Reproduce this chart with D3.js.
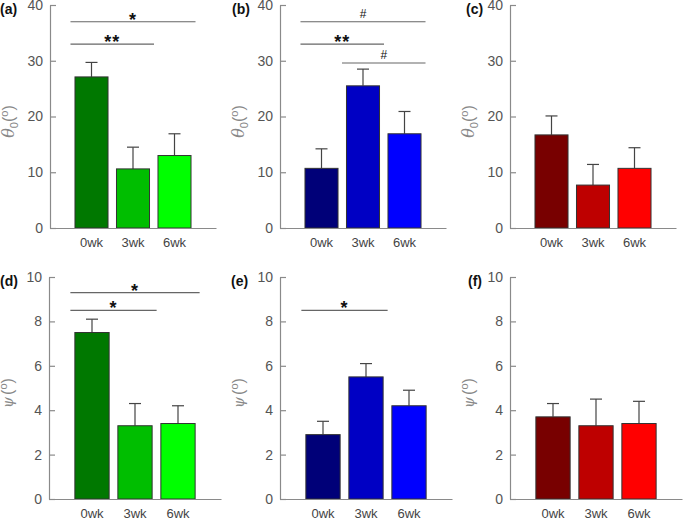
<!DOCTYPE html>
<html>
<head>
<meta charset="utf-8">
<script src="https://cdn.jsdelivr.net/npm/d3@7"></script>
<style>
  html, body { margin: 0; padding: 0; background: #fff; }
  svg { display: block; font-family: "Liberation Sans", Arial, sans-serif; }
</style>
</head>
<body>
<svg id="chart" width="685" height="519"></svg>
<script>
// ---------- data ----------
const weeks = ["0wk", "3wk", "6wk"];

const thetaGreen = [27.1, 10.6, 13.0];
const thetaGreenErr = [2.6, 3.9, 3.9];
const thetaBlue = [10.7, 25.5, 16.9];
const thetaBlueErr = [3.5, 3.0, 4.0];
const thetaRed = [16.7, 7.7, 10.7];
const thetaRedErr = [3.4, 3.7, 3.7];

const psiGreen = [7.5, 3.3, 3.4];
const psiGreenErr = [0.6, 1.0, 0.8];
const psiBlue = [2.9, 5.5, 4.2];
const psiBlueErr = [0.6, 0.6, 0.7];
const psiRed = [3.7, 3.3, 3.4];
const psiRedErr = [0.6, 1.2, 1.0];

const thetaTicks = [0, 10, 20, 30, 40];
const psiTicks = [0, 2, 4, 6, 8, 10];

const greens = ["#007800", "#00be00", "#00ff00"];
const blues = ["#000078", "#0000c4", "#0000ff"];
const reds = ["#780000", "#be0000", "#ff0000"];

const sigA = [{ from: 0, to: 2, y: 37.0, label: "*" }, { from: 0, to: 1, y: 33.0, label: "**" }];
const sigB = [{ from: 0, to: 2, y: 37.0, label: "#" }, { from: 0, to: 1, y: 33.0, label: "**" }, { from: 1, to: 2, y: 29.6, label: "#" }];
const sigD = [{ from: 0, to: 2, y: 9.3, label: "*" }, { from: 0, to: 1, y: 8.5, label: "*" }];
const sigE = [{ from: 0, to: 1, y: 8.5, label: "*" }];

// ---------- layout ----------
const svg = d3.select("#chart");
const rows = [
  { top: 5, bottom: 228, width: 166, max: 40, ticks: thetaTicks, kind: "theta" },
  { top: 277, bottom: 499, width: 172, max: 10, ticks: psiTicks, kind: "psi" }
];
const panels = [
  { tag: "(a)", tagX: 0, row: 0, x0: 50, vals: thetaGreen, err: thetaGreenErr, colors: greens, sig: sigA },
  { tag: "(b)", tagX: 232, row: 0, x0: 280, vals: thetaBlue, err: thetaBlueErr, colors: blues, sig: sigB },
  { tag: "(c)", tagX: 466, row: 0, x0: 510, vals: thetaRed, err: thetaRedErr, colors: reds, sig: [] },
  { tag: "(d)", tagX: 0, row: 1, x0: 49, vals: psiGreen, err: psiGreenErr, colors: greens, sig: sigD },
  { tag: "(e)", tagX: 231, row: 1, x0: 280, vals: psiBlue, err: psiBlueErr, colors: blues, sig: sigE },
  { tag: "(f)", tagX: 468, row: 1, x0: 510, vals: psiRed, err: psiRedErr, colors: reds, sig: [] }
];

const axisColor = "#8a8a8a";
const textColor = "#555";

panels.forEach(p => {
  const r = rows[p.row];
  const x = d3.scaleBand().domain(weeks).range([p.x0, p.x0 + r.width])
    .paddingInner(0.18).paddingOuter(0.59);
  const y = d3.scaleLinear().domain([0, r.max]).range([r.bottom, r.top]);
  const g = svg.append("g");

  const data = weeks.map((w, i) => ({ w, v: p.vals[i], e: p.err[i], c: p.colors[i] }));

  // error bars (upper only)
  const eb = g.append("g").attr("stroke", "#444").attr("stroke-width", 1.2);
  data.forEach(d => {
    const cx = x(d.w) + x.bandwidth() / 2;
    eb.append("line").attr("x1", cx).attr("x2", cx).attr("y1", y(d.v)).attr("y2", y(d.v + d.e));
    eb.append("line").attr("x1", cx - 6).attr("x2", cx + 6).attr("y1", y(d.v + d.e)).attr("y2", y(d.v + d.e));
  });

  // bars
  g.append("g").selectAll("rect").data(data).join("rect")
    .attr("x", d => x(d.w) + 0.5)
    .attr("y", d => y(d.v))
    .attr("width", x.bandwidth() - 1)
    .attr("height", d => y(0) - y(d.v))
    .attr("fill", d => d.c)
    .attr("stroke", "#333")
    .attr("stroke-width", 1);

  // y axis
  const ya = g.append("g").attr("transform", `translate(${p.x0},0)`)
    .call(d3.axisLeft(y).tickValues(r.ticks).tickSizeInner(-6).tickSizeOuter(0).tickPadding(7));
  ya.select(".domain").attr("stroke", axisColor).attr("stroke-width", 1.2);
  ya.selectAll(".tick line").attr("stroke", axisColor).attr("stroke-width", 1.2);
  ya.selectAll(".tick text").attr("fill", textColor).attr("font-size", 14)
    .attr("font-family", "Liberation Sans, Arial, sans-serif");

  // x axis
  const xa = g.append("g").attr("transform", `translate(0,${r.bottom})`)
    .call(d3.axisBottom(x).tickSize(0).tickPadding(10));
  xa.select(".domain").attr("stroke", axisColor).attr("stroke-width", 1.2);
  xa.selectAll(".tick text").attr("fill", "#444").attr("font-size", 13)
    .attr("font-family", "Liberation Sans, Arial, sans-serif");

  // panel tag
  g.append("text").attr("x", p.tagX).attr("y", r.top + 9)
    .attr("font-size", 14).attr("font-weight", "bold").attr("fill", "#111")
    .text(p.tag);

  // y label
  const lab = g.append("text")
    .attr("transform", `translate(${p.x0 - 36},${(r.top + r.bottom) / 2 + 5}) rotate(-90)`)
    .attr("text-anchor", "middle")
    .attr("fill", "#888")
    .attr("font-size", 16);
  if (r.kind === "theta") {
    lab.append("tspan").attr("font-style", "italic").attr("font-family", "DejaVu Serif, serif").attr("font-size", 16).text("θ");
    lab.append("tspan").attr("font-size", 11).attr("dy", 4).text("0");
    lab.append("tspan").attr("dy", -4).text("(");
    lab.append("tspan").attr("font-size", 11).attr("dy", -6).text("o");
    lab.append("tspan").attr("dy", 6).text(")");
  } else {
    lab.append("tspan").attr("font-style", "italic").attr("font-family", "DejaVu Serif, serif").attr("font-size", 14).text("ψ");
    lab.append("tspan").attr("dx", 2).text("(");
    lab.append("tspan").attr("font-size", 11).attr("dy", -6).text("o");
    lab.append("tspan").attr("dy", 6).text(")");
  }

  // significance brackets
  p.sig.forEach(s => {
    const x1 = x(weeks[s.from]) - 4;
    const x2 = x(weeks[s.to]) + x.bandwidth() + 4;
    const yy = y(s.y);
    g.append("line").attr("x1", x1).attr("x2", x2).attr("y1", yy).attr("y2", yy)
      .attr("stroke", "#666").attr("stroke-width", 1.2);
    const isStar = s.label.indexOf("*") >= 0;
    g.append("text")
      .attr("x", (x1 + x2) / 2)
      .attr("y", isStar ? yy + 4 : yy - 4)
      .attr("text-anchor", "middle")
      .attr("font-size", isStar ? 18 : 12)
      .attr("font-weight", isStar ? "bold" : "normal")
      .attr("fill", "#111")
      .attr("letter-spacing", isStar ? 1 : 0)
      .text(s.label);
  });
});
</script>
</body>
</html>
